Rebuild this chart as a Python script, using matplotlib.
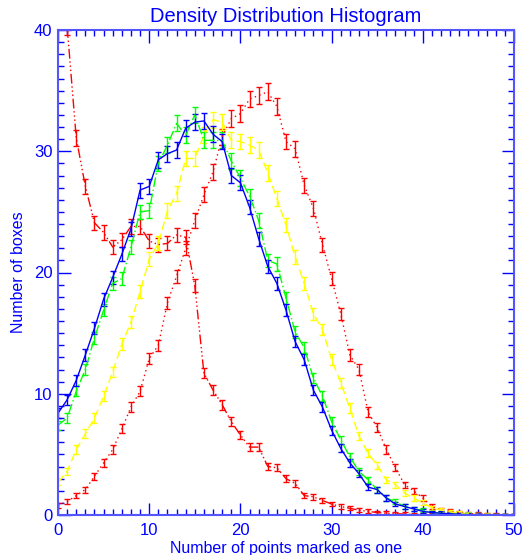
import numpy as np
import matplotlib
matplotlib.use('Agg')
import matplotlib.pyplot as plt
from matplotlib.ticker import MultipleLocator

plt.rcParams['font.family'] = ['Liberation Sans', 'DejaVu Sans']

# number of points marked as one, 0..50
points = list(range(51))

counts_solid = [8.4, 9.5, 11.1, 13.2, 15.4, 17.8, 19.6, 21.5, 23.6, 26.8,
                27.1, 29.3, 29.8, 30.1, 31.9, 32.4, 32.5, 31.4, 30.8, 28.0,
                27.4, 25.4, 22.8, 20.5, 19.1, 16.9, 14.3, 12.8, 10.3, 8.9,
                7.0, 5.5, 4.3, 3.4, 2.3, 2.1, 1.4, 0.9, 0.7, 0.5,
                0.3, 0.2, 0.15, 0.1, 0.05, 0.03, 0.02, 0.01, 0.0, 0.0, 0.0]

counts_green = [7.4, 8.0, 10.2, 12.0, 14.6, 16.9, 19.1, 19.5, 22.1, 25.0,
                25.1, 29.0, 30.5, 32.3, 31.3, 33.0, 30.9, 30.9, 30.9, 29.2,
                27.8, 26.3, 24.3, 21.0, 20.7, 17.9, 15.1, 13.8, 11.3, 9.8,
                7.7, 6.2, 4.8, 3.6, 2.9, 2.1, 1.4, 1.1, 0.7, 0.5,
                0.4, 0.2, 0.15, 0.1, 0.06, 0.04, 0.02, 0.01, 0.0, 0.0, 0.0]

counts_yellow = [2.7, 3.6, 5.4, 6.7, 8.0, 9.8, 11.8, 14.1, 15.9, 18.4,
                 21.1, 22.4, 25.1, 26.5, 29.4, 29.4, 31.3, 32.6, 32.4, 30.9,
                 30.8, 30.5, 30.1, 28.2, 26.1, 23.9, 21.3, 19.1, 16.6, 15.3,
                 12.8, 10.9, 8.8, 6.5, 5.1, 4.1, 2.9, 2.5, 1.8, 1.4,
                 1.0, 0.6, 0.4, 0.25, 0.15, 0.1, 0.05, 0.03, 0.01, 0.0, 0.0]

counts_dotted = [0.8, 1.1, 1.6, 2.1, 3.2, 4.3, 5.4, 7.1, 8.9, 10.2,
                 12.9, 14.0, 17.5, 19.7, 22.0, 24.3, 26.4, 28.3, 31.2, 32.7,
                 33.1, 34.3, 34.6, 34.9, 33.7, 30.8, 30.2, 27.2, 25.3, 22.3,
                 19.5, 16.6, 13.2, 12.0, 8.5, 7.2, 5.4, 3.9, 2.5, 2.0,
                 1.4, 0.7, 0.4, 0.3, 0.2, 0.1, 0.1, 0.05, 0.02, 0.0, 0.0]

counts_dashdot = [55.0, 40.3, 31.1, 27.1, 24.1, 23.3, 22.1, 22.7, 23.8, 23.8,
                  22.6, 22.3, 22.4, 23.1, 22.9, 18.9, 11.7, 10.3, 9.1, 7.7,
                  6.6, 5.6, 5.6, 4.0, 3.9, 3.0, 2.6, 1.6, 1.5, 1.2,
                  0.9, 0.7, 0.55, 0.4, 0.3, 0.2, 0.15, 0.1, 0.08, 0.05,
                  0.03, 0.02, 0.01, 0.0, 0.0, 0.0, 0.0, 0.0, 0.0, 0.0, 0.0]


def count_err(c):
    # counting error, grows with the number of boxes
    c = np.asarray(c)
    return 0.1 + 0.1 * np.sqrt(c)


series = [
    (counts_dashdot, 'red', (0, (7, 2, 1, 2, 1, 2, 1, 2))),
    (counts_dotted, 'red', (0, (1, 2.5))),
    (counts_yellow, '#ffff00', (0, (6, 3))),
    (counts_green, '#00ff00', (0, (7, 2, 1, 2))),
    (counts_solid, 'blue', '-'),
]

fig = plt.figure(figsize=(5.22, 5.55), dpi=100)
ax = fig.add_axes([58 / 522, 1 - 515 / 555, 456 / 522, 485 / 555])

for counts, color, ls in series:
    ax.errorbar(points, counts, yerr=count_err(counts), color=color,
                linestyle=ls, linewidth=1.0, elinewidth=1.0,
                capsize=2.2, capthick=1.0, clip_on=True)

ax.set_xlim(0, 50)
ax.set_ylim(0, 40)

axis_blue = '#0000ff'
ax.xaxis.set_major_locator(MultipleLocator(10))
ax.xaxis.set_minor_locator(MultipleLocator(1))
ax.yaxis.set_major_locator(MultipleLocator(10))
ax.yaxis.set_minor_locator(MultipleLocator(1))
ax.tick_params(which='both', direction='in', top=True, right=True,
               colors=axis_blue, width=1.0)
ax.tick_params(which='major', length=9, labelsize=12)
ax.tick_params(axis='x', which='major', pad=6)
ax.tick_params(axis='y', which='major', pad=4)
ax.tick_params(which='minor', length=4)
for sp in ax.spines.values():
    sp.set_color('#5555ff')
    sp.set_linewidth(1.5)

ax.set_title('Density Distribution Histogram', color=axis_blue,
             fontsize=14.5, pad=6)
ax.set_xlabel('Number of points marked as one', color=axis_blue, fontsize=11.5)
ax.xaxis.set_label_coords(0.5, -0.053)
ax.set_ylabel('Number of boxes', color=axis_blue, fontsize=11.5)
ax.yaxis.set_label_coords(-0.07, 0.5)

fig.savefig('out.png', dpi=100)
